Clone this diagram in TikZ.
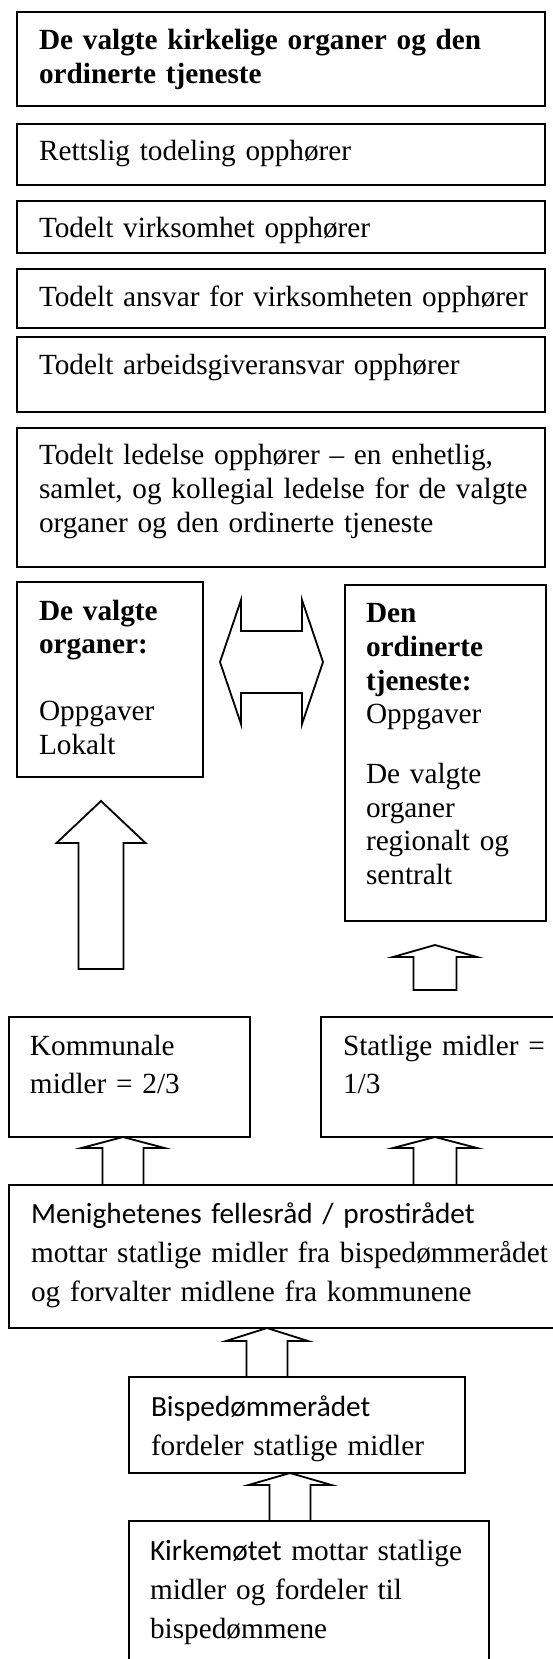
\documentclass[tikz,border=0pt]{standalone}
\usepackage{fontspec}
\setmainfont{Liberation Serif}
\newfontfamily\calibri{Carlito}
\usetikzlibrary{calc,fit}

% block arrow pointing up: tip, foot, shaft half width, head half width, head length
\newcommand\blkarrow[5]{\draw[blk] (#1) -- ++(#4,#5) -- ++(#3-#4,0) |- (#2) -- ++(-#3,0) |- ($(#1)+(-#4,#5)$) -- cycle;}

\begin{document}
\begin{tikzpicture}[x=0.41pt,y=-0.41pt]
        \tikzstyle{every node}+=[inner sep=0pt, outer sep=0pt]
        \tikzstyle{box}=[draw, line width=0.75pt]
        \tikzstyle{txt}=[anchor=base west, text width=215pt, align=left, font=\fontsize{12}{13.74}\selectfont]
        \tikzstyle{txtw}=[txt, font=\fontsize{12}{16.1}\selectfont]
        \tikzstyle{blk}=[draw, line width=0.75pt, line join=miter]
        \clip[use as bounding box] (0,0) rectangle (553,1659);
        % the five boxes on top
        \node [box, fit={(17,12) (545,106)}] (tittel) {};
        \node [txt] (tittelt) at ($(tittel.north west)+(22,38)$) {\bfseries De valgte kirkelige organer og den\\ordinerte tjeneste};
        \node [box, fit={(17,124) (545,185)}] (rettslig) {};
        \node [txt] (rettsligt) at ($(rettslig.north west)+(22,37)$) {Rettslig todeling opphører};
        \node [box, fit={(17,201) (545,253)}] (virksomhet) {};
        \node [txt] (virksomhett) at ($(virksomhet.north west)+(22,37)$) {Todelt virksomhet opphører};
        \node [box, fit={(17,269) (545,328)}] (ansvar) {};
        \node [txt] (ansvart) at ($(ansvar.north west)+(22,38)$) {Todelt ansvar for virksomheten opphører};
        \node [box, fit={(17,337) (545,412)}] (arbgiver) {};
        \node [txt] (arbgivert) at ($(arbgiver.north west)+(22,38)$) {Todelt arbeidsgiveransvar opphører};
        \node [box, fit={(17,428) (545,567)}] (ledelse) {};
        \node [txt] (ledelset) at ($(ledelse.north west)+(22,37)$) {Todelt ledelse opphører -- en enhetlig,\\samlet, og kollegial ledelse for de valgte\\organer og den ordinerte tjeneste};
        % valgte organer and ordinert tjeneste
        \node [box, fit={(17,582) (203,777)}] (valgte) {};
        \node [txt] (valgtet) at ($(valgte.north west)+(22,38)$) {\textbf{De valgte}\\\textbf{organer:}\\[13.74pt]Oppgaver\\Lokalt};
        \node [box, fit={(345,585) (546,921)}] (ordinert) {};
        \node [txt] (ordinertt) at ($(ordinert.north west)+(21,38)$) {\textbf{Den}\\\textbf{ordinerte}\\\textbf{tjeneste:}\\Oppgaver\\[10.9pt]De valgte\\organer\\regionalt og\\sentralt};
        \coordinate (dl) at (220,662);
        \coordinate (dr) at (323,662);
        \draw [blk] (dl) -- ++(21,-62) -- ++(0,31) -- ++(61,0) -- ++(0,-31) -- (dr) -- ++(-21,62) -- ++(0,-31) -- ++(-61,0) -- ++(0,31) -- cycle;
        % money
        \node [box, fit={(9,1017) (250,1137)}] (kommunal) {};
        \node [txt, font=\fontsize{12}{15.6}\selectfont] (kommunalt) at ($(kommunal.north west)+(21,38)$) {Kommunale\\midler = 2/3};
        \node [box, fit={(321,1017) (570,1137)}] (statlig) {};
        \node [txt, font=\fontsize{12}{15.6}\selectfont] (statligt) at ($(statlig.north west)+(22,38)$) {Statlige midler =\\1/3};
        \coordinate (a1t) at (101,801);
        \coordinate (a1b) at (101,969);
        \blkarrow{a1t}{a1b}{22.5}{44.5}{42}
        \coordinate (a2t) at (435,945);
        \coordinate (a2b) at (435,990);
        \blkarrow{a2t}{a2b}{21.5}{42}{12}
        % fellesraad, bispedomme, kirkemote
        \node [box, fit={(9,1185) (570,1328)}] (menighet) {};
        \node [txtw] (menighett) at ($(menighet.north west)+(22,38)$) {{\calibri Menighetenes fellesråd / prostirådet}\\mottar statlige midler fra bispedømmerådet\\og forvalter midlene fra kommunene};
        \node [box, fit={(129,1377) (465,1473)}] (bispedomme) {};
        \node [txtw] (bispedommet) at ($(bispedomme.north west)+(22,39)$) {{\calibri Bispedømmerådet}\\fordeler statlige midler};
        \node [box, fit={(129,1521) (489,1690)}] (kirkemote) {};
        \node [txtw] (kirkemotet) at ($(kirkemote.north west)+(21,39)$) {{\calibri Kirkemøtet} mottar statlige\\midler og fordeler til\\bispedømmene};
        \coordinate (a3t) at ($(kommunal.south west)+(114,0)$);
        \coordinate (a3b) at ($(menighet.north west)+(114,0)$);
        \blkarrow{a3t}{a3b}{20.5}{41.5}{11}
        \coordinate (a4t) at ($(statlig.south west)+(114,0)$);
        \coordinate (a4b) at ($(menighet.north west)+(426,0)$);
        \blkarrow{a4t}{a4b}{21.5}{42}{11}
        \coordinate (a5t) at ($(menighet.south west)+(258,0)$);
        \coordinate (a5b) at ($(bispedomme.north west)+(138,0)$);
        \blkarrow{a5t}{a5b}{20.5}{41}{13}
        \coordinate (a6t) at ($(bispedomme.south west)+(161,0)$);
        \coordinate (a6b) at ($(kirkemote.north west)+(161,0)$);
        \blkarrow{a6t}{a6b}{20.5}{41.5}{12}
\end{tikzpicture}
\end{document}
